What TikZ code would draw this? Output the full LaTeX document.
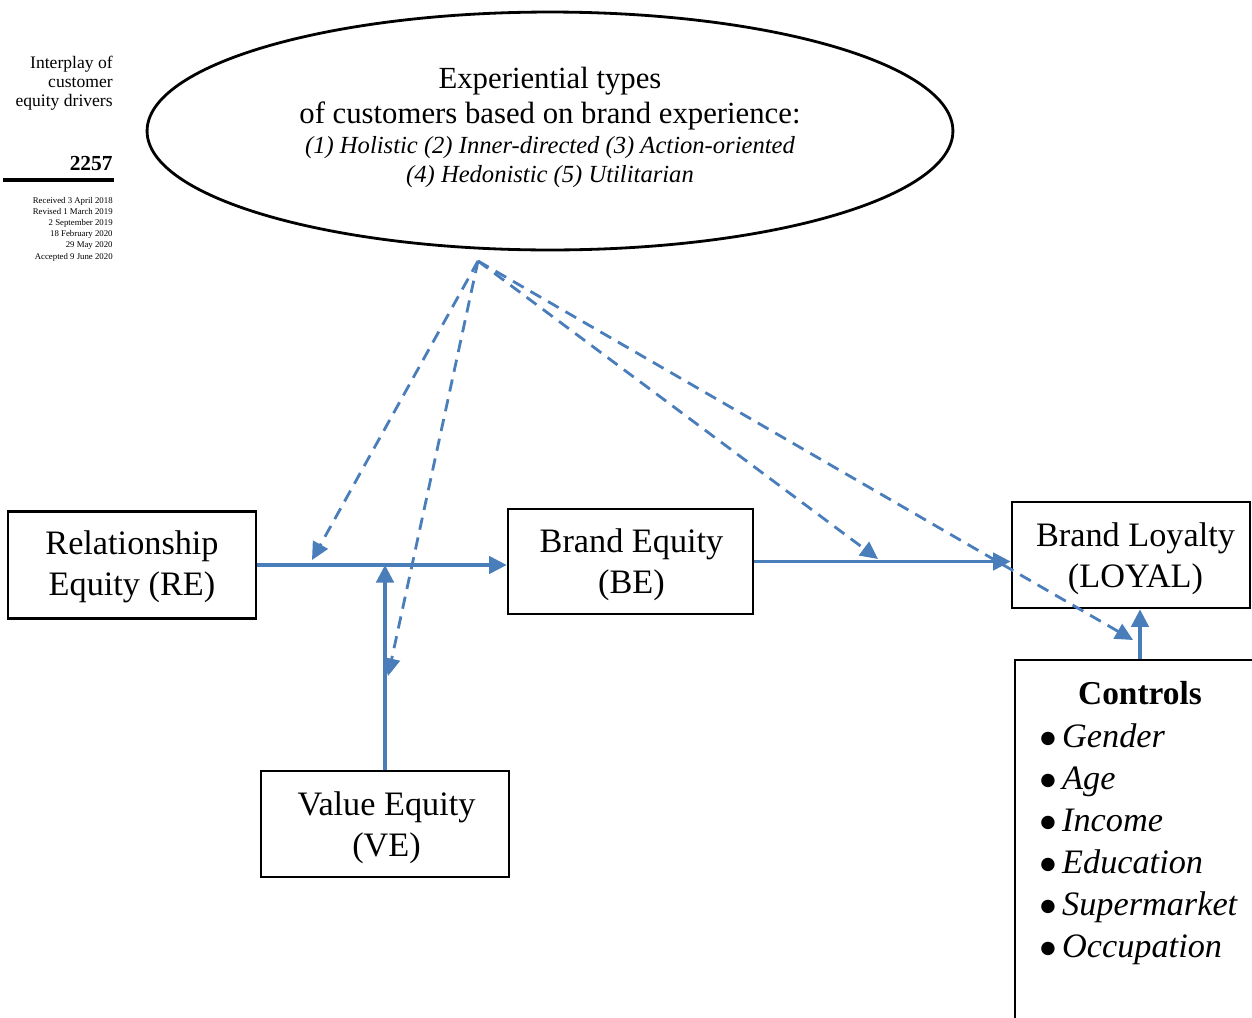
\documentclass[tikz,border=0pt]{standalone}
\usepackage{fontspec}
\setmainfont{Liberation Serif}
\newfontfamily\symbolfont{DejaVu Sans}
\usetikzlibrary{shapes.geometric,arrows.meta,calc}
\definecolor{linkblue}{RGB}{74,126,187}
\newcommand{\headsize}{\fontsize{17.5}{19.8}\selectfont}
\newcommand{\typesize}{\fontsize{14}{16.4}\selectfont\itshape}
\newcommand{\ctlbullet}{\makebox[13pt][l]{\hspace{0.6pt}\upshape\symbolfont\fontsize{10}{10}\selectfont\raisebox{1.9pt}{●}}}
\begin{document}
\begin{tikzpicture}[x=0.02cm,y=-0.02cm,
  box/.style={draw, line width=1.6pt, rectangle, inner sep=0pt},
  boxtext/.style={align=center, inner sep=0pt, font=\fontsize{19.5}{23.5}\selectfont},
  flow/.style={draw=linkblue, line width=1.8pt, -{Triangle[length=10pt,width=10pt]}},
  moder/.style={draw=linkblue, line width=1.6pt, dash pattern=on 7pt off 4.5pt,
    -{Triangle[length=10pt,width=9.5pt]}},
  margintext/.style={anchor=east, align=right, inner sep=0pt},
  item/.style={anchor=base west, inner sep=0pt, font=\fontsize{19.5}{23}\selectfont\itshape}]
\useasboundingbox (0,0) rectangle (1252,1018);
\clip (0,0) rectangle (1252,1018);

% margin: running head, page number, history
\node[margintext, font=\fontsize{10}{10.8}\selectfont] (runhead) at (113,83)
  {Interplay of\\customer\\equity drivers};
\node[margintext, font=\fontsize{12.2}{13}\selectfont\bfseries] (page) at (113,164) {2257};
\draw[line width=2.3pt] (3,180) -- (114,180);
\node[margintext, font=\fontsize{5}{6.4}\selectfont] (history) at (113,229)
  {Received 3 April 2018\\Revised 1 March 2019\\2 September 2019\\18 February 2020\\29 May 2020\\Accepted 9 June 2020};

% moderator ellipse
\node[ellipse, draw, line width=1.6pt, minimum width=16.12cm, minimum height=4.76cm] (exp) at (550,131) {};
\node[align=center, inner sep=0pt] (exptext) at (550,127.5)
  {\headsize Experiential types\\[2.8pt]\headsize of customers based on brand experience:\\[2.7pt]
   \typesize (1) Holistic (2) Inner-directed (3) Action-oriented\\[2.8pt]\typesize (4) Hedonistic (5) Utilitarian};

% constructs
\node[box, minimum width=4.96cm, minimum height=2.14cm] (re) at (132,565) {};
\node[box, minimum width=4.9cm, minimum height=2.1cm] (be) at (630.5,561.5) {};
\node[box, minimum width=4.76cm, minimum height=2.12cm] (loyal) at (1131,555) {};
\node[box, minimum width=4.96cm, minimum height=2.12cm] (ve) at (385,824) {};
\node[boxtext] (retext) at (132,566.5) {Relationship\\Equity (RE)};
\node[boxtext] (betext) at (631.5,565) {Brand Equity\\(BE)};
\node[boxtext] (loyaltext) at (1135.5,559) {Brand Loyalty\\(LOYAL)};
\node[boxtext] (vetext) at (386.5,827.5) {Value Equity\\(VE)};

% controls
\node[box, minimum width=5cm, minimum height=7.6cm] (ctl) at (1140,850) {};
\node[inner sep=0pt, font=\fontsize{19}{23}\selectfont\bfseries] (ctltitle) at (1140,693) {Controls};
\foreach \lbl [count=\k from 0] in {Gender,Age,Income,Education,Supermarket,Occupation}
  \node[item] (ctl\k) at (1039,747+42*\k) {\ctlbullet\lbl};

% main paths
\coordinate (joint) at (ve.north |- re.east);
\draw[flow] (re.east) -- (re.east -| be.west);
\draw[flow] (ve.north) -- (joint);
\draw[flow] (be.east) -- (be.east -| loyal.west);
\draw[flow] (ctl.north) -- (ctl.north |- loyal.south);

% moderating effects
\coordinate (apex) at (478,261);
\coordinate (m1) at (312,560);
\coordinate (m2) at (388,676);
\coordinate (m3) at (878,559);
\coordinate (m4) at (1133,640);
\draw[moder] (apex) -- (m1);
\draw[moder] (apex) -- (m2);
\draw[moder] (apex) -- (m3);
\draw[moder] (apex) -- (m4);
\end{tikzpicture}
\end{document}
